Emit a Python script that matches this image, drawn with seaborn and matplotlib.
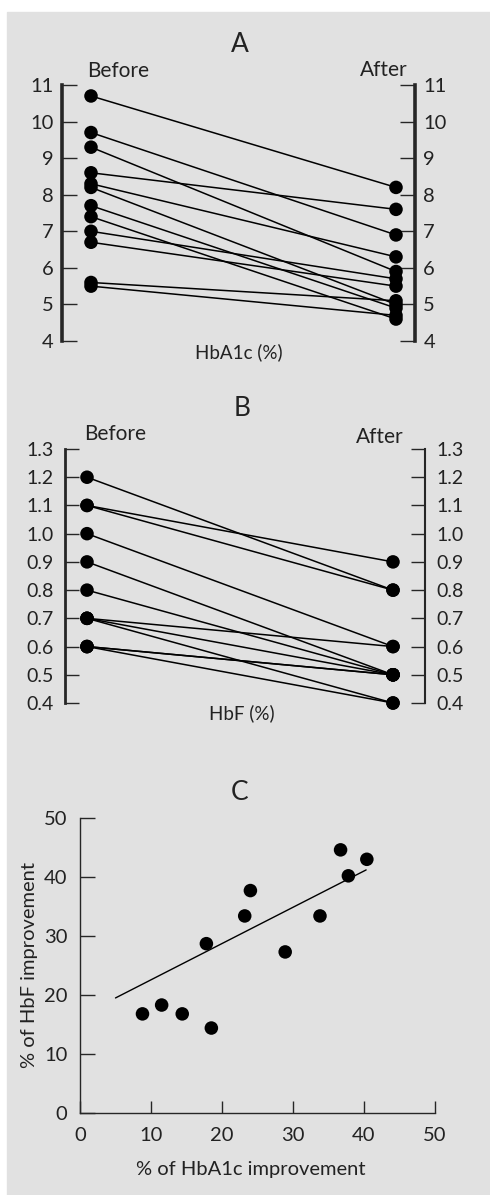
import matplotlib
matplotlib.use("Agg")
import matplotlib.pyplot as plt
from matplotlib.patches import Rectangle
import pandas as pd
import seaborn as sns

# A: HbA1c (%) before / after, one entry per patient
hba1c_before = [10.7, 9.7, 9.3, 8.6, 8.3, 8.2, 7.7, 7.4, 7.0, 6.7, 5.6, 5.5]
hba1c_after = [8.2, 6.9, 5.9, 7.6, 6.3, 5.0, 4.9, 4.6, 5.7, 5.5, 5.1, 4.7]
hba1c_ticks = [4, 5, 6, 7, 8, 9, 10, 11]

# B: HbF (%) before / after
hbf_before = [1.2, 1.1, 1.1, 1.0, 0.9, 0.8, 0.7, 0.7, 0.7, 0.6, 0.6, 0.6]
hbf_after = [0.8, 0.9, 0.8, 0.6, 0.5, 0.5, 0.6, 0.5, 0.4, 0.5, 0.5, 0.4]
hbf_ticks = [0.4, 0.5, 0.6, 0.7, 0.8, 0.9, 1.0, 1.1, 1.2, 1.3]
hbf_ticklabels = ["0.4", "0.5", "0.6", "0.7", "0.8", "0.9", "1.0", "1.1", "1.2", "1.3"]

# C: % improvement, HbA1c vs HbF
hba1c_impr = [8.8, 11.5, 14.4, 17.8, 18.5, 23.2, 24.0, 28.9, 33.8, 36.7, 37.8, 40.4]
hbf_impr = [16.8, 18.3, 16.8, 28.7, 14.4, 33.4, 37.7, 27.3, 33.4, 44.6, 40.2, 43.0]
fit_x = [5.0, 40.3]
fit_y = [19.5, 41.2]
c_ticks = [0, 10, 20, 30, 40, 50]

W, H = 490, 1195
TXT = "#222222"

sns.set_style("ticks")
plt.rcParams["font.family"] = ["Lato", "DejaVu Sans"]


def box(l, t, r, b):
    # pixel box -> figure fraction
    return [l / W, 1 - b / H, (r - l) / W, (b - t) / H]


def ftext(x, y, s, size, **kw):
    fig.text(x / W, 1 - y / H, s, fontsize=size, color=TXT,
             ha="center", va="center", **kw)


def paired(ax, before, after):
    n = len(before)
    df = pd.DataFrame({
        "patient": list(range(n)) * 2,
        "time": [0] * n + [1] * n,
        "value": before + after,
    })
    sns.lineplot(data=df, x="time", y="value", units="patient", estimator=None,
                 color="black", lw=1.1, ax=ax, legend=False)
    sns.scatterplot(data=df, x="time", y="value", color="black", s=95,
                    edgecolor="none", ax=ax, clip_on=False, zorder=3)
    ax.set_facecolor("none")
    ax.set_xticks([])
    ax.set_xlabel("")
    ax.set_ylabel("")
    ax.spines["top"].set_visible(False)
    ax.spines["bottom"].set_visible(False)
    ax.spines["right"].set_visible(True)


fig = plt.figure(figsize=(W / 100, H / 100), dpi=100)
fig.patches.append(Rectangle((7 / W, 0), 1 - 7 / W, 1 - 12 / H,
                             transform=fig.transFigure, color="#e1e1e1", zorder=-10))

# ---- panel A
axA = fig.add_axes(box(62, 85, 415, 341))
paired(axA, hba1c_before, hba1c_after)
axA.set_xlim(-29 / 305, 1 + 19 / 305)
axA.set_ylim(4, 11)
axA.set_yticks(hba1c_ticks)
axA.tick_params(axis="y", direction="in", length=11, width=1, left=True, right=True,
                labelleft=True, labelright=True, labelsize=14.5, labelcolor=TXT, pad=6)
axA.spines["left"].set_linewidth(2.6)
axA.spines["right"].set_linewidth(2.6)

ftext(240, 45, "A", 19)
ftext(118, 71, "Before", 15)
ftext(384, 70, "After", 15)
ftext(239, 352, "HbA1c (%)", 13.5)

# ---- panel B
axB = fig.add_axes(box(65, 449, 425, 703))
paired(axB, hbf_before, hbf_after)
axB.set_xlim(-22 / 306, 1 + 32 / 306)
axB.set_ylim(0.4, 1.3)
axB.set_yticks(hbf_ticks)
axB.set_yticklabels(hbf_ticklabels)
axB.tick_params(axis="y", direction="in", length=10, width=1, left=True, right=True,
                labelleft=True, labelright=True, labelsize=14, labelcolor=TXT, pad=8)
axB.spines["left"].set_linewidth(2.0)
axB.spines["right"].set_linewidth(1.5)

ftext(242, 408, "B", 19)
ftext(115, 434, "Before", 15)
ftext(380, 437, "After", 15)
ftext(242, 713, "HbF (%)", 13.5)

# ---- panel C
axC = fig.add_axes(box(80, 818, 435, 1113))
axC.set_facecolor("none")
sns.scatterplot(x=hba1c_impr, y=hbf_impr, color="black", s=95, edgecolor="none",
                ax=axC, clip_on=False, zorder=3)
sns.lineplot(x=fit_x, y=fit_y, color="black", lw=1.0, ax=axC)
axC.set_xlim(0, 50)
axC.set_ylim(0, 50)
axC.set_xticks(c_ticks)
axC.set_yticks(c_ticks)
axC.tick_params(axis="y", direction="in", length=11, width=1, labelsize=14.5,
                labelcolor=TXT, pad=9)
axC.tick_params(axis="x", direction="in", length=9, width=1, labelsize=14.5,
                labelcolor=TXT, pad=10)
sns.despine(ax=axC)
for s in ["left", "bottom"]:
    axC.spines[s].set_linewidth(1.0)

ftext(240, 793, "C", 19)
ftext(30, 965, "% of HbF improvement", 14.5, rotation=90)
ftext(251, 1169, "% of HbA1c improvement", 14.5)

fig.savefig("out.png", dpi=100)
